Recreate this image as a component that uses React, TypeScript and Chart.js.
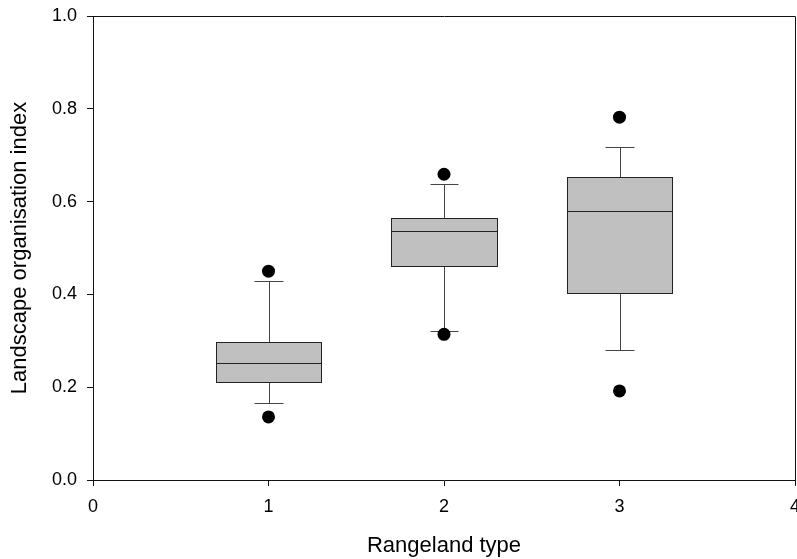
import React, { useEffect, useRef } from "react";
import { Chart, registerables } from "chart.js";

Chart.register(...registerables);

// Data
const categories = [1, 2, 3];
const q1 = [0.212, 0.461, 0.403];
const median = [0.252, 0.537, 0.58];
const q3 = [0.298, 0.565, 0.652];
const whiskerLow = [0.165, 0.321, 0.281];
const whiskerHigh = [0.429, 0.638, 0.718];
const outliersLow = [0.136, 0.314, 0.192];
const outliersHigh = [0.45, 0.659, 0.782];

const xTicks = [0, 1, 2, 3, 4];
const yTicks = [0, 0.2, 0.4, 0.6, 0.8, 1.0];

const xTitle = "Rangeland type";
const yTitle = "Landscape organisation index";

const BOX_HALF = 0.3;
const CAP_HALF = 0.082;
const FONT = "'Liberation Sans', Arial, Helvetica, sans-serif";

const boxPlugin = {
  id: "boxes",
  beforeDatasetsDraw(chart: any) {
    const { ctx, scales } = chart;
    const x = scales.x;
    const y = scales.y;
    ctx.save();
    categories.forEach((c, i) => {
      const xc = Math.round(x.getPixelForValue(c)) + 0.5;
      const xl = Math.round(x.getPixelForValue(c - BOX_HALF)) + 0.5;
      const xr = Math.round(x.getPixelForValue(c + BOX_HALF)) + 0.5;
      const cl = Math.round(x.getPixelForValue(c - CAP_HALF)) + 0.5;
      const cr = Math.round(x.getPixelForValue(c + CAP_HALF)) + 0.5;
      const yq1 = Math.round(y.getPixelForValue(q1[i])) + 0.5;
      const yq3 = Math.round(y.getPixelForValue(q3[i])) + 0.5;
      const ym = Math.round(y.getPixelForValue(median[i])) + 0.5;
      const ylo = Math.round(y.getPixelForValue(whiskerLow[i])) + 0.5;
      const yhi = Math.round(y.getPixelForValue(whiskerHigh[i])) + 0.5;

      ctx.lineWidth = 1;
      // whiskers
      ctx.strokeStyle = "#444";
      ctx.beginPath();
      ctx.moveTo(xc, yq3);
      ctx.lineTo(xc, yhi);
      ctx.moveTo(cl, yhi);
      ctx.lineTo(cr, yhi);
      ctx.moveTo(xc, yq1);
      ctx.lineTo(xc, ylo);
      ctx.moveTo(cl, ylo);
      ctx.lineTo(cr, ylo);
      ctx.stroke();

      // box
      ctx.fillStyle = "#c0c0c0";
      ctx.fillRect(xl, yq3, xr - xl, yq1 - yq3);
      ctx.strokeStyle = "#222";
      ctx.strokeRect(xl, yq3, xr - xl, yq1 - yq3);
      // median
      ctx.beginPath();
      ctx.moveTo(xl, ym);
      ctx.lineTo(xr, ym);
      ctx.stroke();
    });
    ctx.restore();
  },
  afterDraw(chart: any) {
    const { ctx, chartArea } = chart;
    ctx.save();
    ctx.strokeStyle = "#111";
    ctx.lineWidth = 1;
    ctx.beginPath();
    ctx.moveTo(Math.round(chartArea.left) + 0.5, Math.round(chartArea.top) + 0.5);
    ctx.lineTo(Math.round(chartArea.right) + 0.5, Math.round(chartArea.top) + 0.5);
    ctx.lineTo(Math.round(chartArea.right) + 0.5, Math.round(chartArea.bottom) + 0.5);
    ctx.stroke();
    ctx.restore();
  },
};

export default function App() {
  const ref = useRef<HTMLCanvasElement | null>(null);

  useEffect(() => {
    if (!ref.current) return;
    const outlierPoints = [
      ...categories.map((c, i) => ({ x: c, y: outliersLow[i] })),
      ...categories.map((c, i) => ({ x: c, y: outliersHigh[i] })),
    ];
    const chart = new Chart(ref.current, {
      type: "scatter",
      data: {
        datasets: [
          {
            label: "Outliers",
            data: outlierPoints,
            pointRadius: 6.5,
            pointBackgroundColor: "#000",
            pointBorderWidth: 0,
            pointBorderColor: "#000",
          },
        ],
      },
      options: {
        animation: false,
        responsive: false,
        devicePixelRatio: 1,
        layout: { padding: { top: 16, right: 20, left: 0, bottom: 0 } },
        plugins: {
          legend: { display: false },
          tooltip: { enabled: false },
        },
        scales: {
          x: {
            type: "linear",
            min: xTicks[0],
            max: xTicks[xTicks.length - 1],
            afterBuildTicks: (s: any) => {
              s.ticks = xTicks.map((v) => ({ value: v }));
            },
            afterFit: (s: any) => {
              s.height = 79;
              s.paddingLeft = 0;
              s.paddingRight = 0;
            },
            ticks: {
              padding: 10,
              color: "#000",
              font: { family: FONT, size: 18 },
              callback: (v: any) => String(v),
            },
            grid: {
              display: true,
              drawOnChartArea: false,
              drawTicks: true,
              tickLength: 6,
              color: "#111",
            },
            border: { display: true, color: "#111", width: 1 },
            title: {
              display: true,
              text: xTitle,
              color: "#000",
              font: { family: FONT, size: 22 },
              padding: { top: 0, bottom: 0 },
            },
          },
          y: {
            type: "linear",
            min: yTicks[0],
            max: yTicks[yTicks.length - 1],
            afterBuildTicks: (s: any) => {
              s.ticks = yTicks.map((v) => ({ value: v }));
            },
            afterFit: (s: any) => {
              s.width = 93;
              s.paddingTop = 0;
              s.paddingBottom = 0;
            },
            ticks: {
              padding: 10,
              color: "#000",
              font: { family: FONT, size: 18 },
              callback: (v: any) => Number(v).toFixed(1),
            },
            grid: {
              display: true,
              drawOnChartArea: false,
              drawTicks: true,
              tickLength: 6,
              color: "#111",
            },
            border: { display: true, color: "#111", width: 1 },
            title: {
              display: true,
              text: yTitle,
              color: "#000",
              font: { family: FONT, size: 22 },
              padding: { top: 7, bottom: 0 },
            },
          },
        },
      },
      plugins: [boxPlugin],
    });
    return () => chart.destroy();
  }, []);

  return (
    <div
      style={{
        position: "fixed",
        left: 0,
        top: 0,
        width: 797,
        height: 559,
        overflow: "hidden",
        background: "#fff",
      }}
    >
      <canvas ref={ref} width={815} height={559} style={{ display: "block" }} />
    </div>
  );
}
